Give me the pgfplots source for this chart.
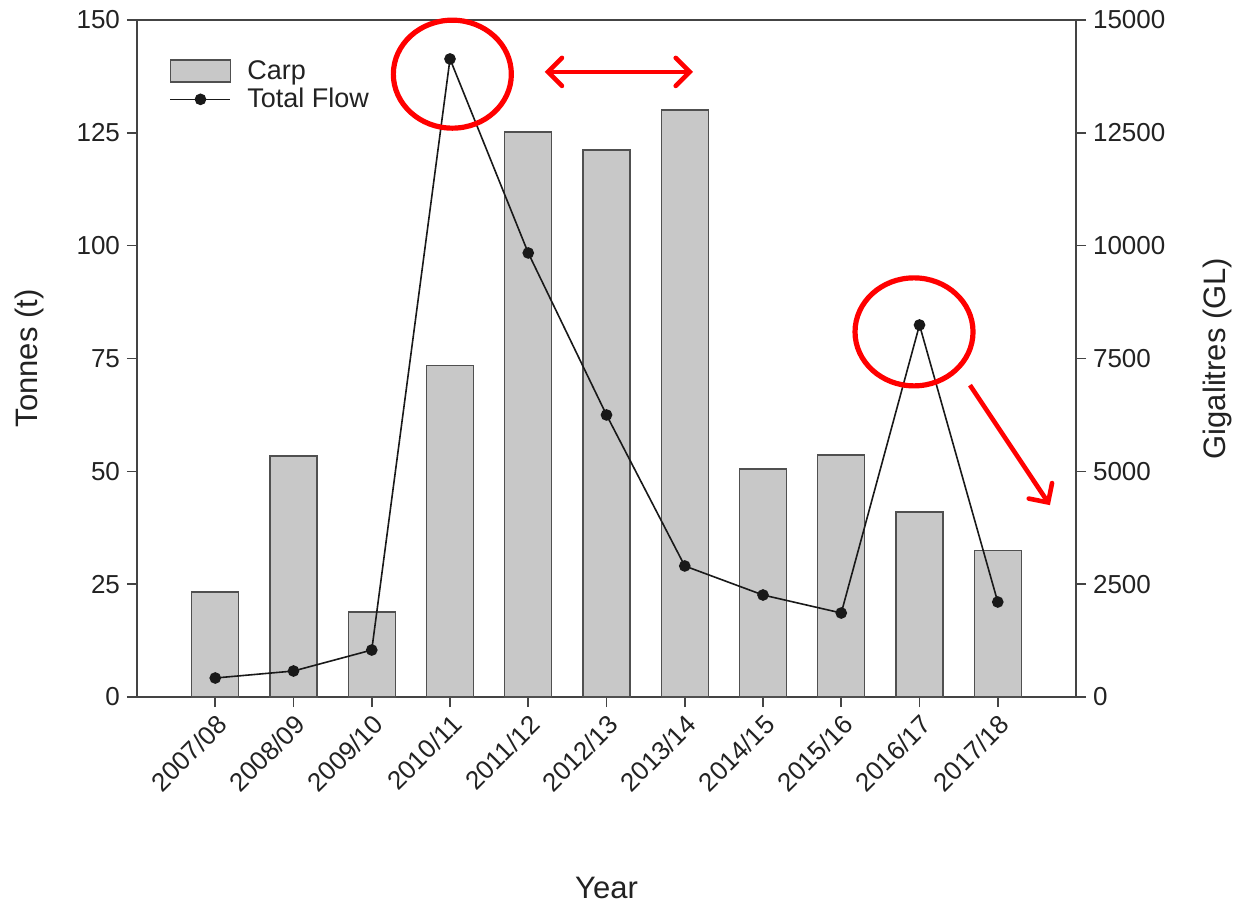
\documentclass[border=0pt]{standalone}
\usepackage{fontspec}
\setmainfont{Liberation Sans}
\usepackage{pgfplots}
\pgfplotsset{compat=1.18}
\usetikzlibrary{arrows.meta,calc}

\definecolor{barfill}{HTML}{C8C8C8}
\definecolor{bardraw}{HTML}{505050}
\definecolor{axgray}{HTML}{444444}
\definecolor{txt}{HTML}{222222}
\definecolor{ann}{HTML}{FF0000}

\pgfplotsset{
  common/.style={
    scale only axis, width=469.5pt, height=338.5pt,
    xmin=-1, xmax=11,
    tick align=outside,
    major tick length=5pt,
    axis line style={axgray, line width=0.8pt},
    every tick/.style={axgray, line width=0.8pt},
    tick label style={txt, font=\fontsize{13}{15}\selectfont},
    label style={txt, font=\fontsize{15.5}{18}\selectfont},
    /pgf/number format/assume math mode=true,
    /pgf/number format/1000 sep={},
    scaled y ticks=false,
  },
  barlegend/.style={legend image code/.code={\draw[fill=barfill, draw=bardraw, line width=0.7pt] (0pt,-5.5pt) rectangle (30pt,5.5pt);}},
  linelegend/.style={legend image code/.code={\draw[mark repeat=2, mark phase=2, ##1] plot coordinates {(0pt,0pt)(15pt,0pt)(30pt,0pt)};}},
}

\begin{document}
\begin{tikzpicture}
\begin{axis}[common, name=left,
  ymin=0, ymax=150,
  ytick={0,25,...,150},
  xtick={0,...,10},
  xticklabels={2007/08,2008/09,2009/10,2010/11,2011/12,2012/13,2013/14,2014/15,2015/16,2016/17,2017/18},
  xtick pos=lower, ytick pos=left,
  x tick label style={rotate=45, anchor=north east, inner sep=2pt},
  xlabel={Year},
  xlabel style={at={(axis description cs:0.5,-0.282)}, anchor=center},
  ylabel={Tonnes (t)},
  ylabel style={at={(axis description cs:-0.114,0.5)}, anchor=center},
]
\addplot[ybar, bar width=0.6, fill=barfill, draw=bardraw, line width=0.7pt]
  coordinates {(0,23.3)(1,53.4)(2,18.8)(3,73.4)(4,125.2)(5,121.2)(6,130.1)(7,50.5)(8,53.6)(9,41.0)(10,32.5)};
\end{axis}

\begin{axis}[common,
  ymin=0, ymax=15000,
  ytick={0,2500,...,15000},
  axis x line=none,
  axis y line*=right,
  ytick pos=right,
  ylabel={Gigalitres (GL)},
  ylabel style={at={(axis description cs:1.151,0.5)}, anchor=center},
  clip=false,
  legend cell align=left,
  legend style={at={(0.028,0.953)}, anchor=north west, draw=none, fill=none,
    font=\fontsize{13.5}{15}\selectfont, text=txt,
    row sep=-1pt, column sep=6pt},
]
\addlegendimage{barlegend}
\addlegendentry{Carp}
\addplot[black!90, line width=0.8pt, mark=*, mark size=2.5pt, linelegend]
  coordinates {(0,421)(1,576)(2,1041)(3,14137)(4,9838)(5,6249)(6,2903)(7,2260)(8,1861)(9,8243)(10,2105)};
\addlegendentry{Total Flow}

\draw[ann, line width=2.6pt] (axis cs:3.03,13800) ellipse [x radius=29.5pt, y radius=27pt];
\draw[ann, line width=2.6pt] (axis cs:8.93,8090) ellipse [x radius=29.5pt, y radius=27pt];
\draw[ann, line width=2.3pt, line cap=round, {Straight Barb[length=7pt, width=14pt, line cap=round]}-{Straight Barb[length=7pt, width=14pt, line cap=round]}]
  (axis cs:4.21,13850) -- (axis cs:6.105,13850);
\draw[ann, line width=2.3pt, -{Straight Barb[length=7pt, width=14pt, line cap=round]}]
  (axis cs:9.645,6910) -- (axis cs:10.667,4250);
\end{axis}

\pgfresetboundingbox
\path[use as bounding box] ($(left.south west)+(-68.5pt,-104pt)$) rectangle ($(left.north east)+(82pt,10pt)$);
\end{tikzpicture}
\end{document}
